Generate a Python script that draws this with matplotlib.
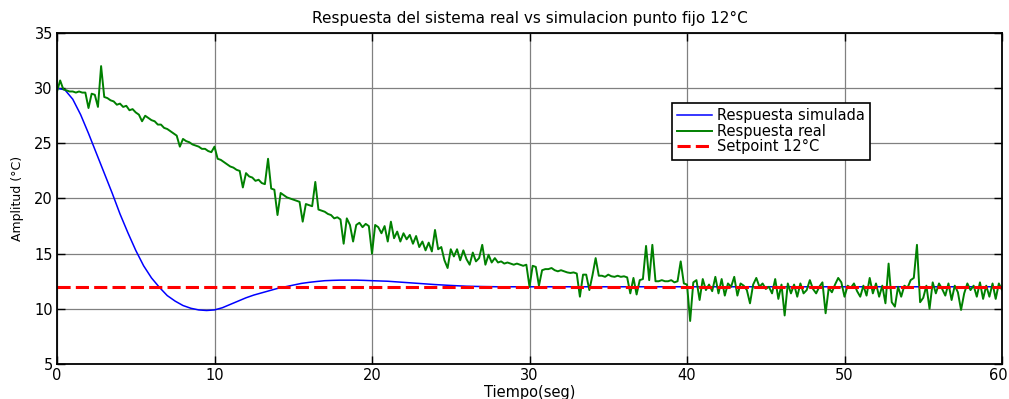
import numpy as np
import matplotlib
matplotlib.use("Agg")
import matplotlib.pyplot as plt
from matplotlib.transforms import ScaledTranslation

plt.rcParams['font.family'] = ['DejaVu Sans']

# Simulated step response (time in s, temperature in °C)
sim_t = [0.0, 0.5, 1.0, 1.5, 2.0, 2.5, 3.0, 3.5, 4.0, 4.5,
         5.0, 5.5, 6.0, 6.5, 7.0, 7.5, 8.0, 8.5, 9.0, 9.5,
         10.0, 10.5, 11.0, 11.5, 12.0, 12.5, 13.0, 13.5, 14.0, 14.5,
         15.0, 15.5, 16.0, 16.5, 17.0, 17.5, 18.0, 18.5, 19.0, 19.5,
         20.0, 21.0, 22.0, 23.0, 24.0, 25.0, 26.0, 27.0, 28.0, 30.0, 60.0]
sim_y = [30.0, 29.85, 29.0, 27.6, 25.9, 24.1, 22.3, 20.5, 18.6, 16.9,
         15.3, 13.9, 12.8, 11.95, 11.2, 10.7, 10.3, 10.05, 9.9, 9.85,
         9.9, 10.1, 10.4, 10.7, 11.0, 11.25, 11.45, 11.65, 11.85, 12.0,
         12.15, 12.3, 12.4, 12.48, 12.55, 12.58, 12.6, 12.6, 12.6, 12.58,
         12.55, 12.5, 12.4, 12.3, 12.2, 12.12, 12.05, 12.02, 12.0, 12.0, 12.0]

# Measured response, sampled every 0.2 s
real_dt = 0.2
real_00_10 = [29.7, 30.7, 29.9, 29.8, 29.7, 29.7, 29.6, 29.7, 29.6, 29.6,
              28.2, 29.5, 29.4, 28.3, 32.0, 29.2, 29.1, 28.9, 28.8, 28.5,
              28.6, 28.3, 28.4, 28.0, 28.1, 27.8, 27.6, 27.0, 27.5, 27.3,
              27.1, 27.0, 26.7, 26.7, 26.4, 26.3, 26.1, 25.9, 25.7, 24.7,
              25.4, 25.2, 25.1, 24.9, 24.8, 24.7, 24.5, 24.5, 24.3, 24.2]
real_10_20 = [24.7, 23.6, 23.5, 23.3, 23.1, 22.9, 22.8, 22.6, 22.5, 21.0,
              22.3, 22.0, 21.9, 21.6, 21.7, 21.4, 21.3, 23.6, 20.9, 20.8,
              18.5, 20.5, 20.3, 20.1, 20.0, 19.9, 19.8, 19.7, 17.9, 19.5,
              19.4, 19.3, 21.5, 19.0, 18.9, 18.8, 18.6, 18.5, 18.2, 18.3,
              18.1, 15.9, 18.2, 17.6, 16.1, 17.6, 17.8, 17.4, 17.7, 17.5]
real_20_30 = [15.0, 17.6, 17.4, 16.85, 17.5, 16.1, 17.9, 16.4, 17.0, 16.1,
              16.85, 16.3, 16.7, 15.9, 16.6, 15.6, 16.1, 15.3, 16.0, 15.2,
              17.15, 15.4, 15.6, 14.4, 13.7, 15.4, 14.75, 15.4, 14.4, 15.3,
              14.5, 14.0, 15.1, 14.3, 14.6, 15.8, 14.0, 14.9, 14.2, 14.6,
              14.2, 14.3, 14.1, 14.2, 14.1, 14.0, 14.1, 14.0, 13.9, 14.0]
real_30_40 = [12.0, 13.9, 13.8, 12.1, 13.5, 13.6, 13.6, 13.7, 13.5, 13.4,
              13.5, 13.4, 13.3, 13.25, 13.3, 13.2, 11.1, 13.1, 13.1, 11.7,
              13.05, 14.6, 13.0, 13.0, 12.9, 13.1, 12.95, 12.9, 13.0, 12.9,
              12.95, 12.85, 11.4, 12.8, 11.3, 12.6, 12.7, 15.7, 12.6, 15.8,
              12.5, 12.5, 12.6, 12.5, 12.5, 12.6, 12.4, 12.5, 14.3, 12.3]
real_40_50 = [12.2, 8.9, 12.4, 12.6, 10.8, 12.7, 11.7, 12.2, 11.6, 12.9,
              11.4, 12.7, 11.2, 12.3, 12.0, 12.9, 11.2, 12.3, 12.1, 11.7,
              10.5, 12.2, 12.8, 12.0, 12.3, 11.8, 12.0, 11.4, 12.7, 10.9,
              12.2, 9.4, 12.3, 11.4, 12.2, 11.1, 12.3, 11.4, 11.7, 12.6,
              11.8, 11.4, 12.0, 12.4, 9.6, 11.9, 11.5, 12.2, 12.8, 12.4]
real_50_60 = [11.1, 12.1, 11.9, 12.3, 11.6, 11.1, 12.1, 11.2, 12.8, 11.4,
              12.3, 11.1, 12.1, 10.5, 14.1, 10.6, 10.2, 12.0, 11.1, 12.1,
              11.9, 12.6, 12.8, 15.8, 10.6, 11.0, 12.1, 10.0, 12.4, 11.4,
              12.3, 11.8, 11.2, 12.3, 10.8, 12.1, 11.5, 9.9, 11.4, 12.3,
              11.7, 12.1, 11.1, 12.4, 10.9, 12.1, 11.1, 12.3, 10.9, 12.3,
              11.7]
real_y = real_00_10 + real_10_20 + real_20_30 + real_30_40 + real_40_50 + real_50_60
real_t = np.arange(len(real_y)) * real_dt

setpoint = 12.0
t_span = [0, 60]

x_ticks = [0, 10, 20, 30, 40, 50, 60]
y_ticks = [5, 10, 15, 20, 25, 30, 35]

W, H = 1009, 399
fig = plt.figure(figsize=(W / 100, H / 100), dpi=100)
ax = fig.add_axes([57 / W, 1 - 364 / H, 945 / W, 331 / H])

ax.plot(sim_t, sim_y, color=(0, 0, 1), lw=1.1, label='Respuesta simulada')
ax.plot(real_t, real_y, color=(0, 0.5, 0), lw=1.4, label='Respuesta real')
ax.plot(t_span, [setpoint, setpoint], color=(1, 0, 0), lw=2.2,
        ls=(0, (4.3, 1.7)), label='Setpoint 12°C')

ax.set_xlim(0, 60)
ax.set_ylim(5, 35)
ax.set_xticks(x_ticks)
ax.set_yticks(y_ticks)
ax.set_axisbelow(True)
ax.grid(True, color='#808080', lw=0.9)
ax.tick_params(direction='in', top=True, right=True, length=6, width=1,
               labelsize=10.5, pad=3, colors='black')
for sp in ax.spines.values():
    sp.set_linewidth(1.3)
    sp.set_color('black')

# keep the last x tick label inside the figure edge
last = ax.get_xticklabels()[-1]
last.set_transform(last.get_transform() +
                   ScaledTranslation(-3 / 72, 0, fig.dpi_scale_trans))

ax.set_title('Respuesta del sistema real vs simulacion punto fijo 12°C',
             fontsize=11, pad=7)
ax.set_xlabel('Tiempo(seg)', fontsize=10.5, labelpad=1)
ax.set_ylabel('Amplitud (°C)', fontsize=9, labelpad=7)

leg = ax.legend(loc='upper left', bbox_to_anchor=(0.651, 0.789),
                borderaxespad=0, fontsize=10.5, fancybox=False,
                edgecolor='black', framealpha=1, borderpad=0.35,
                labelspacing=0.05, handlelength=2.4, handletextpad=0.35)
leg.get_frame().set_linewidth(1.2)

fig.savefig('out.png', dpi=100, facecolor='white')
